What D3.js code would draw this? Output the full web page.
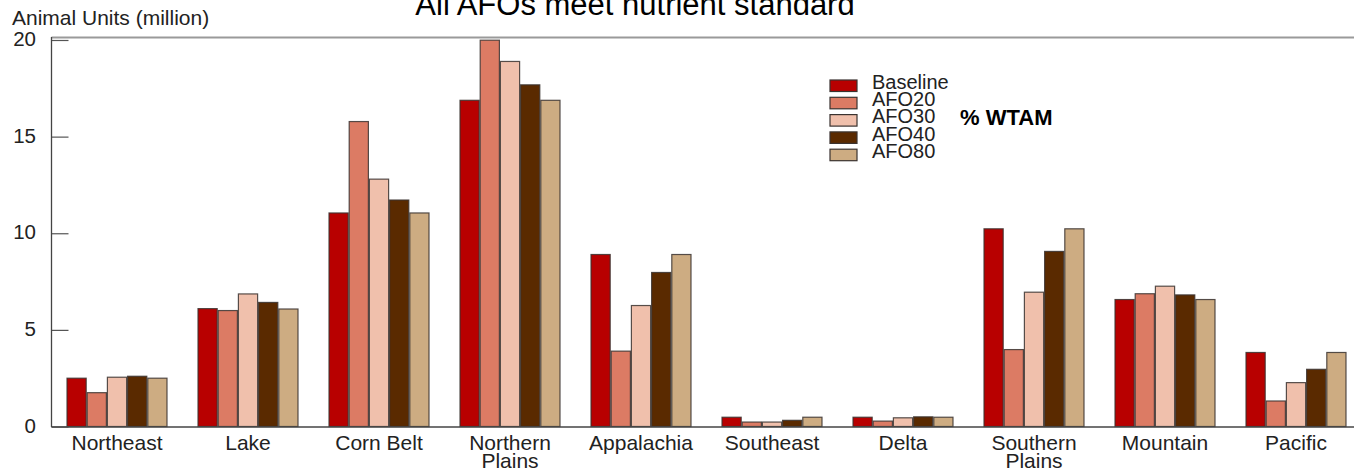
<!DOCTYPE html>
<html>
<head>
<meta charset="utf-8">
<script src="https://cdn.jsdelivr.net/npm/d3@7"></script>
<style>
  html, body { margin: 0; padding: 0; background: #fff; }
  svg { display: block; font-family: "Liberation Sans", Arial, Helvetica, sans-serif; }
</style>
</head>
<body>
<svg id="chart" width="1354" height="472"></svg>
<script>
const title = "All AFOs meet nutrient standard";
const yTitle = "Animal Units (million)";
const legendNote = "% WTAM";
const regions = ["Northeast", "Lake", "Corn Belt", "Northern\nPlains", "Appalachia", "Southeast", "Delta", "Southern\nPlains", "Mountain", "Pacific"];
const seriesNames = ["Baseline", "AFO20", "AFO30", "AFO40", "AFO80"];
const seriesColors = ["#b80000", "#dc7b64", "#f0c0ac", "#5a2a00", "#cdac82"];
const baseline = [2.5, 6.1, 11.05, 16.88, 8.9, 0.48, 0.48, 10.23, 6.57, 3.83];
const afo20    = [1.75, 6.0, 15.78, 19.99, 3.9, 0.23, 0.28, 3.98, 6.87, 1.32];
const afo30    = [2.55, 6.86, 12.8, 18.89, 6.26, 0.23, 0.45, 6.95, 7.26, 2.27];
const afo40    = [2.6, 6.42, 11.72, 17.68, 7.97, 0.32, 0.5, 9.06, 6.81, 2.96];
const afo80    = [2.5, 6.08, 11.05, 16.88, 8.9, 0.48, 0.48, 10.23, 6.57, 3.83];
const yTicks = [0, 5, 10, 15, 20];

const series = [baseline, afo20, afo30, afo40, afo80];
const svg = d3.select("#chart");

const mLeft = 51.5, mRight = 1361.5, mTop = 40, mBottom = 426.5;
const x0 = d3.scaleBand().domain(regions).range([mLeft, mRight]).paddingInner(0.229).paddingOuter(0.1145);
const x1 = d3.scaleBand().domain(seriesNames).range([0, x0.bandwidth()]);
const y = d3.scaleLinear().domain([0, 20]).range([mBottom, mTop]);

// top frame line
svg.append("line").attr("x1", mLeft).attr("x2", 1354).attr("y1", 37.5).attr("y2", 37.5)
  .attr("stroke", "#9a9a9a").attr("stroke-width", 2);

// bars
const groups = svg.append("g").selectAll("g").data(regions).join("g")
  .attr("transform", d => `translate(${x0(d)},0)`);
groups.selectAll("rect")
  .data((d, i) => seriesNames.map((s, j) => ({ s, v: series[j][i], c: seriesColors[j] })))
  .join("rect")
  .attr("x", d => x1(d.s) + 0.5)
  .attr("y", d => y(d.v))
  .attr("width", x1.bandwidth() - 1)
  .attr("height", d => y(0) - y(d.v))
  .attr("fill", d => d.c)
  .attr("stroke", "#3a3330")
  .attr("stroke-opacity", 0.85)
  .attr("stroke-width", 1.2);

// y axis
const yAxis = d3.axisRight(y).tickValues(yTicks).tickSize(17).tickFormat(() => "");
const ya = svg.append("g").attr("transform", `translate(${mLeft},0)`).call(yAxis);
ya.select(".domain").remove();
ya.selectAll(".tick line").attr("stroke", "#555").attr("stroke-width", 1.2);
svg.append("line").attr("x1", mLeft).attr("x2", mLeft).attr("y1", 37).attr("y2", mBottom + 0.5)
  .attr("stroke", "#444").attr("stroke-width", 1.3);
svg.append("g").selectAll("text").data(yTicks).join("text")
  .attr("x", 36).attr("y", d => y(d)).attr("dy", "0.3em")
  .attr("text-anchor", "end").attr("font-size", 20.5).attr("fill", "#222")
  .text(d => d);

// x axis line
svg.append("line").attr("x1", mLeft).attr("x2", 1354).attr("y1", mBottom + 0.5).attr("y2", mBottom + 0.5)
  .attr("stroke", "#444").attr("stroke-width", 1.3);

// x labels
const xl = svg.append("g").selectAll("text").data(regions).join("text")
  .attr("x", d => x0(d) + x0.bandwidth() / 2)
  .attr("y", 450)
  .attr("text-anchor", "middle").attr("font-size", 21).attr("fill", "#222");
xl.each(function(d) {
  const lines = d.split("\n");
  d3.select(this).selectAll("tspan").data(lines).join("tspan")
    .attr("x", x0(d) + x0.bandwidth() / 2)
    .attr("dy", (l, i) => i === 0 ? 0 : 17.5)
    .text(l => l);
});

// titles
svg.append("text").attr("x", 635).attr("y", 15).attr("text-anchor", "middle")
  .attr("font-size", 31).attr("fill", "#000").text(title);
svg.append("text").attr("x", 12).attr("y", 25).attr("font-size", 21).attr("fill", "#222").text(yTitle);

// legend
const lg = svg.append("g").attr("transform", "translate(830,80)");
const items = lg.selectAll("g").data(seriesNames).join("g")
  .attr("transform", (d, i) => `translate(0,${i * 17.3})`);
items.append("rect").attr("width", 27).attr("height", 11.5)
  .attr("fill", (d, i) => seriesColors[i]).attr("stroke", "#3a3330").attr("stroke-width", 1.2);
items.append("text").attr("x", 42).attr("y", 8.7).attr("font-size", 20).attr("fill", "#222").text(d => d);
svg.append("text").attr("x", 960).attr("y", 124.5).attr("font-size", 22).attr("font-weight", "bold")
  .attr("fill", "#000").text(legendNote);
</script>
</body>
</html>
